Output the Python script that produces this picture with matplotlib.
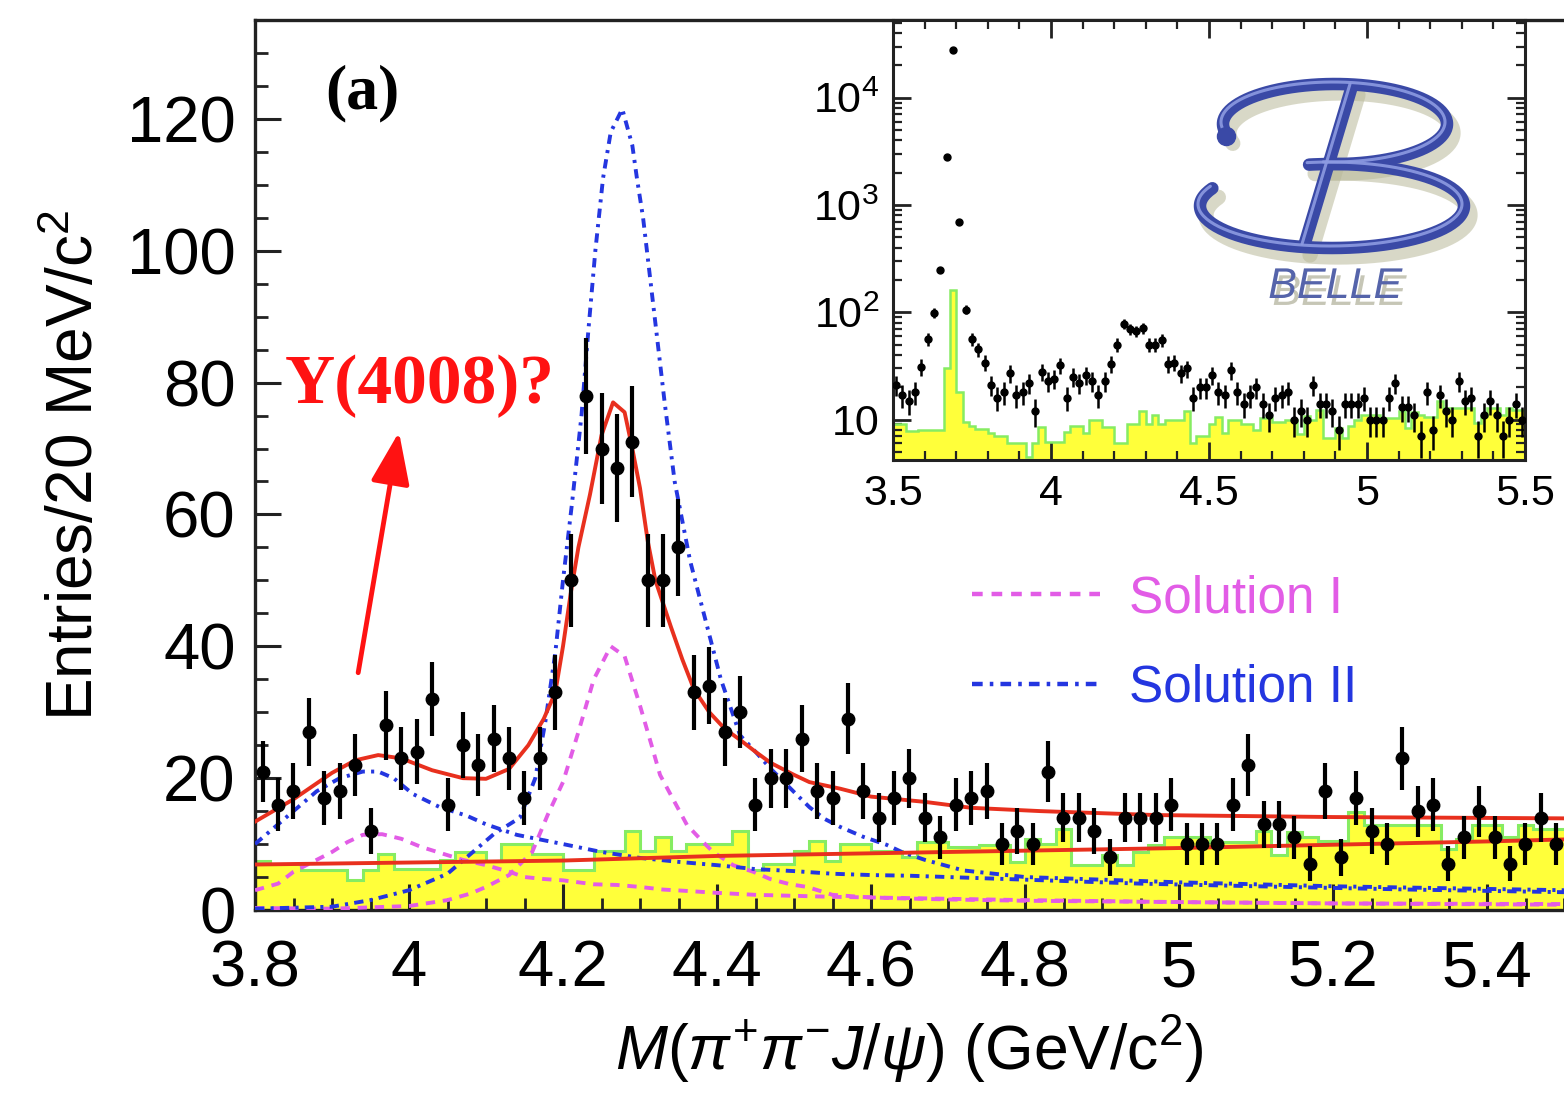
import numpy as np
import matplotlib
matplotlib.use("Agg")
import matplotlib.pyplot as plt
import matplotlib.patheffects as pe
from matplotlib.ticker import MultipleLocator, FuncFormatter, FixedLocator, LogLocator, NullFormatter
from matplotlib.lines import Line2D

plt.rcParams['font.family'] = ['Liberation Sans', 'DejaVu Sans']
plt.rcParams['mathtext.fontset'] = 'custom'
plt.rcParams['mathtext.rm'] = 'Liberation Sans'
plt.rcParams['mathtext.it'] = 'Liberation Sans:italic'
plt.rcParams['mathtext.bf'] = 'Liberation Sans:bold'

# ---------------- data ----------------
bin_width = 0.02
mass_start = 3.80          # main histogram: 85 bins of 20 MeV, 3.80 - 5.50
counts = [21, 16, 18, 27, 17, 18, 22, 12, 28, 23,
          24, 32, 16, 25, 22, 26, 23, 17, 23, 33,
          50, 78, 70, 67, 71, 50, 50, 55, 33, 34,
          27, 30, 16, 20, 20, 26, 18, 17, 29, 18,
          14, 17, 20, 14, 11, 16, 17, 18, 10, 12,
          10, 21, 14, 14, 12, 8, 14, 14, 14, 16,
          10, 10, 10, 16, 22, 13, 13, 11, 7, 18,
          8, 17, 12, 10, 23, 15, 16, 7, 11, 15,
          11, 7, 10, 14, 10]
sideband = [7.5, 7, 7, 6, 6, 6, 4.5, 6, 8.5, 6.2,
            6.2, 6.2, 7.6, 8.8, 8.8, 7.5, 10, 10, 8.5, 8.5,
            6, 6, 9, 9, 12, 9, 11, 9, 10, 10,
            10, 12, 6, 7, 7, 9, 10.5, 7.5, 10, 10,
            9, 9, 8, 10.3, 10.3, 9.5, 9.5, 9.9, 9.9, 7.3,
            10.8, 10, 12.3, 6.8, 6.8, 8.3, 6.8, 8.8, 9.9, 11,
            11, 11, 10.3, 10.3, 10.3, 12, 8.3, 11.8, 11, 10.5,
            10.5, 14.9, 12.9, 12.9, 12.9, 12.9, 12.9, 9.3, 10.8, 12.9,
            12.9, 11, 12.9, 12.3, 12.3]

# inset: extra bins 3.50 - 3.80 (psi(2S) region)
inset_start = 3.50
inset_low_counts = [21, 17, 15, 18, 31, 56, 99, 250, 2800, 28000, 700, 106, 56, 45, 34]
inset_low_sideband = [9, 9, 7.8, 7.8, 8, 8, 8, 8, 30, 160, 18, 9.4, 8.7, 8.1, 8.1]

# fitted curves
fit_x = [3.80, 3.85, 3.90, 3.93, 3.96, 3.99, 4.03, 4.07, 4.10, 4.13, 4.155, 4.175, 4.19, 4.20,
         4.21, 4.22, 4.235, 4.25, 4.265, 4.28, 4.29, 4.30, 4.31, 4.32, 4.34, 4.355, 4.37, 4.39,
         4.41, 4.43, 4.45, 4.47, 4.50, 4.52, 4.56, 4.60, 4.67, 4.73, 4.82, 4.97, 5.20, 5.50]
fit_y = [13.4, 16.8, 20.8, 22.7, 23.5, 23.0, 21.2, 20.0, 19.9, 21.4, 25.0, 29.0, 33.0, 40.0,
         48.0, 55.0, 63.0, 72.0, 77.0, 75.5, 70.0, 64.0, 56.0, 50.0, 43.0, 38.0, 33.5, 30.0,
         27.5, 25.8, 24.0, 22.3, 20.5, 19.4, 18.4, 17.2, 16.4, 15.5, 15.0, 14.4, 14.1, 13.9]
linbkg_x = [3.80, 4.00, 4.20, 4.40, 4.60, 4.80, 5.00, 5.20, 5.40, 5.50]
linbkg_y = [6.9, 7.2, 7.5, 8.2, 8.6, 9.0, 9.4, 9.9, 10.4, 10.7]

sol1_y4008_x = [3.80, 3.83, 3.85, 3.875, 3.90, 3.92, 3.94, 3.965, 3.99, 4.015, 4.045, 4.07, 4.10,
                4.13, 4.15, 4.175, 4.20, 4.24, 4.27, 4.30, 4.33, 4.36, 4.40, 4.45, 4.55, 4.65,
                4.80, 5.00, 5.20, 5.50]
sol1_y4008_y = [3.0, 4.0, 5.8, 7.3, 8.8, 10.3, 11.4, 11.5, 10.8, 9.6, 8.5, 7.6, 6.8,
                5.8, 5.0, 4.7, 4.5, 3.9, 3.8, 3.5, 3.1, 2.9, 2.6, 2.3, 2.0, 1.8,
                1.5, 1.2, 1.0, 0.9]
sol1_y4260_x = [3.80, 3.90, 4.00, 4.05, 4.08, 4.10, 4.13, 4.16, 4.18, 4.20, 4.22, 4.24, 4.262,
                4.28, 4.30, 4.315, 4.326, 4.343, 4.361, 4.382, 4.395, 4.421, 4.447, 4.469,
                4.495, 4.517, 4.55, 4.586, 4.625, 4.70, 4.80, 5.00, 5.20, 5.50]
sol1_y4260_y = [0.3, 0.2, 0.6, 1.5, 2.5, 3.5, 5.3, 8.8, 14.4, 19.4, 27.0, 35.0, 40.0,
                38.5, 31.0, 25.0, 20.5, 16.8, 12.9, 10.3, 8.8, 6.8, 5.8, 4.7,
                3.9, 3.5, 2.3, 2.0, 1.8, 1.6, 1.4, 1.2, 1.0, 0.8]
sol2_y4008_x = [3.80, 3.82, 3.85, 3.88, 3.91, 3.94, 3.96, 3.98, 4.005, 4.04, 4.075, 4.10, 4.14,
                4.20, 4.25, 4.30, 4.35, 4.40, 4.45, 4.50, 4.55, 4.60, 4.65, 4.80, 4.95, 5.10,
                5.30, 5.50]
sol2_y4008_y = [10.0, 12.0, 15.0, 18.0, 20.0, 21.0, 21.0, 20.0, 17.6, 15.6, 14.3, 13.0, 11.4,
                10.0, 8.8, 7.9, 7.3, 6.8, 6.2, 5.9, 5.5, 5.3, 5.2, 4.6, 4.0, 3.6,
                3.1, 2.7]
sol2_y4260_x = [3.80, 3.90, 3.95, 4.00, 4.05, 4.08, 4.11, 4.144, 4.164, 4.177, 4.19, 4.20, 4.212,
                4.224, 4.233, 4.242, 4.252, 4.262, 4.277, 4.29, 4.296, 4.304, 4.315, 4.326,
                4.332, 4.345, 4.365, 4.385, 4.405, 4.43, 4.45, 4.47, 4.50, 4.52, 4.54, 4.56,
                4.59, 4.62, 4.64, 4.67, 4.72, 4.80, 5.00, 5.20, 5.50]
sol2_y4260_y = [0.2, 0.5, 1.5, 3.0, 5.5, 8.5, 11.5, 14.0, 20.0, 28.5, 39.0, 50.0, 62.0,
                75.0, 88.0, 100.0, 111.0, 118.0, 121.5, 116.0, 111.0, 105.0, 94.0, 83.0,
                77.0, 65.0, 53.0, 44.0, 35.0, 26.5, 24.0, 21.4, 17.9, 15.6, 13.8, 12.6,
                11.1, 9.9, 8.8, 7.6, 6.0, 5.0, 4.2, 3.6, 3.0]

legend_labels = ['Solution I', 'Solution II']
main_xticks = [3.8, 4.0, 4.2, 4.4, 4.6, 4.8, 5.0, 5.2, 5.4]
inset_xticks = [3.5, 4.0, 4.5, 5.0, 5.5]
inset_yticks = [10, 100, 1000, 10000]
inset_yticklabels = ['10', '$10^{2}$', '$10^{3}$', '$10^{4}$']

# ---------------- styles ----------------
C_RED = '#e8301e'
C_MAG = '#e25ce6'
C_BLUE = '#2436e0'
C_YEL = '#ffff3a'
C_GRN = '#86ec62'
LS_MAG = (0, (2.4, 2.0))
LS_BLUE = (0, (2.4, 1.6, 0.8, 1.6))

W, H = 1564, 1095
fig = plt.figure(figsize=(W / 100, H / 100), dpi=100, facecolor='white')

# ---------------- main axes ----------------
ax = fig.add_axes([255 / W, (H - 910) / H, (W - 255) / W, 890 / H])
n = len(counts)
edges = mass_start + bin_width * np.arange(n + 1)
centers = edges[:-1] + bin_width / 2
ax.stairs(sideband, edges, fill=True, color=C_YEL, baseline=0, zorder=1)
ax.stairs(sideband, edges, color=C_GRN, lw=2.2, baseline=None, zorder=2)

ax.plot(sol1_y4008_x, sol1_y4008_y, color=C_MAG, ls=LS_MAG, lw=2.8, zorder=3)
ax.plot(sol1_y4260_x, sol1_y4260_y, color=C_MAG, ls=LS_MAG, lw=2.8, zorder=3)
ax.plot(sol2_y4008_x, sol2_y4008_y, color=C_BLUE, ls=LS_BLUE, lw=2.8, zorder=3)
ax.plot(sol2_y4260_x, sol2_y4260_y, color=C_BLUE, ls=LS_BLUE, lw=2.8, zorder=3)
ax.plot(linbkg_x, linbkg_y, color=C_RED, lw=2.8, zorder=4)
ax.plot(fit_x, fit_y, color=C_RED, lw=2.8, zorder=4)

cnt = np.array(counts, dtype=float)
ax.errorbar(centers, cnt, yerr=np.sqrt(cnt), fmt='o', color='black', ms=9,
            elinewidth=3.0, capsize=0, zorder=6)

ax.set_xlim(3.8, 5.5)
ax.set_ylim(0, 135)
ax.xaxis.set_major_locator(FixedLocator(main_xticks))
ax.xaxis.set_minor_locator(MultipleLocator(0.05))
ax.yaxis.set_major_locator(MultipleLocator(20))
ax.yaxis.set_minor_locator(MultipleLocator(5))
ax.xaxis.set_major_formatter(FuncFormatter(lambda v, p: '%g' % v))
ax.tick_params(which='both', direction='in', top=False, right=False, color='#222222')
ax.tick_params(which='major', length=19, width=2.2, labelsize=47)
ax.tick_params(axis='x', which='major', pad=21)
ax.tick_params(axis='y', which='major', pad=14)
ax.tick_params(which='minor', length=9, width=2.0)
for s in ['left', 'bottom', 'top']:
    ax.spines[s].set_linewidth(2.4)
    ax.spines[s].set_color('#222222')
ax.spines['right'].set_visible(False)

ax.set_xlabel(r'$M(\pi^{+}\pi^{-}J/\psi)$ (GeV/c$^{2}$)', fontsize=45)
ax.xaxis.set_label_coords(0.5, -0.157)
ax.xaxis.label.set_va('center')
ax.set_ylabel('Entries/20 MeV/c$^{2}$', fontsize=46)
ax.yaxis.set_label_coords(-0.137, 0.5)
ax.yaxis.label.set_va('center')

ax.text(3.939, 123.8, '(a)', fontsize=46, fontweight='bold', family='Liberation Serif',
        ha='center', va='center', zorder=7)
ax.text(4.014, 79.4, 'Y(4008)?', fontsize=50, fontweight='bold', family='Liberation Serif',
        color='#ff1212', ha='center', va='center', zorder=7)
ax.annotate('', xy=(3.987, 72.5), xytext=(3.934, 36.0),
            arrowprops=dict(arrowstyle='-|>,head_length=0.8,head_width=0.3',
                            color='#ff1212', lw=3.5, mutation_scale=40, shrinkA=0, shrinkB=0),
            zorder=7)

handles = [Line2D([], [], color=C_MAG, ls=LS_MAG, lw=3.2),
           Line2D([], [], color=C_BLUE, ls=LS_BLUE, lw=3.2)]
ax.legend(handles, legend_labels, loc='upper left', bbox_to_anchor=(0.548, 0.377),
          frameon=False, fontsize=37, handlelength=2.5, handletextpad=0.55,
          labelspacing=0.78, labelcolor='linecolor', borderaxespad=0, borderpad=0)

# ---------------- inset ----------------
iax = fig.add_axes([893 / W, (H - 460) / H, 632 / W, 440 / H])
icounts = np.array(inset_low_counts + counts, dtype=float)
iside = inset_low_sideband + sideband
iedges = inset_start + bin_width * np.arange(len(icounts) + 1)
icent = iedges[:-1] + bin_width / 2
iax.stairs(iside, iedges, fill=True, color=C_YEL, baseline=1, zorder=1)
iax.stairs(iside, iedges, color=C_GRN, lw=1.8, baseline=None, zorder=2)
iax.errorbar(icent, icounts, yerr=np.sqrt(icounts), fmt='o', color='black', ms=5,
             elinewidth=1.8, capsize=0, zorder=4)
iax.set_yscale('log')
iax.set_xlim(3.5, 5.5)
iax.set_ylim(4.2, 5.3e4)
iax.xaxis.set_major_locator(FixedLocator(inset_xticks))
iax.xaxis.set_minor_locator(MultipleLocator(0.1))
iax.xaxis.set_major_formatter(FuncFormatter(lambda v, p: '%g' % v))
iax.yaxis.set_major_locator(FixedLocator(inset_yticks))
iax.set_yticklabels(inset_yticklabels)
iax.yaxis.set_minor_locator(LogLocator(base=10, subs=np.arange(2, 10)))
iax.yaxis.set_minor_formatter(NullFormatter())
iax.tick_params(which='both', direction='in', top=True, right=True, color='#222222')
iax.tick_params(which='major', length=13, width=2.0, labelsize=31, pad=10)
iax.tick_params(which='minor', length=6.5, width=1.6)
for s in iax.spines.values():
    s.set_linewidth(2.2)
    s.set_color('#222222')

# ---------------- BELLE logo (decoration, pixel coordinates) ----------------
lax = fig.add_axes([0, 0, 1, 1], zorder=10)
lax.set_xlim(0, W)
lax.set_ylim(H, 0)
lax.axis('off')
lax.patch.set_alpha(0)


def ell(cx, cy, a, b, t0, t1, num=160):
    t = np.radians(np.linspace(t0, t1, num))
    return cx + a * np.cos(t), cy + b * np.sin(t)


strokes = [ell(1332, 206, 132, 42, 205, -100),
           ell(1335, 124, 112, 40, 165, 455),
           (np.array([1352, 1304]), np.array([86, 246]))]
for dx, dy, col, lw, al in [(6, 9, '#b9b99a', 11, 0.55), (0, 0, '#3a49a6', 9, 1.0),
                            (-2, -2, '#8d9be2', 2.2, 0.9)]:
    for sx, sy in strokes:
        lax.plot(sx + dx, sy + dy, color=col, lw=lw, alpha=al, solid_capstyle='round')
lax.plot([1226], [136], 'o', color='#3a49a6', ms=13)
lax.text(1335, 287, 'BELLE', fontsize=31, style='italic', color='#5564aa',
         ha='center', va='center',
         path_effects=[pe.withSimplePatchShadow(offset=(3, -5), shadow_rgbFace='#b8b8a4',
                                                alpha=0.8)])

fig.savefig('out.png', dpi=100, facecolor='white')
